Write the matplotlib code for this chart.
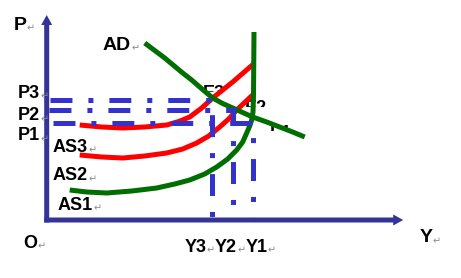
import matplotlib.pyplot as plt
from matplotlib.transforms import Bbox, TransformedBbox

plt.rcParams['lines.scale_dashes'] = False

# curves, x = output Y, y = price P (origin at the axes corner)
ad_x = [98, 108, 118, 127, 136, 145, 153, 160, 166, 176, 186, 196, 206, 220, 233, 246, 258]
ad_y = [177, 169.5, 162, 154.5, 147, 140, 133, 127, 122, 116.5, 112, 107.5, 103, 98, 93, 88, 83]

as1_x = [23, 40, 60, 85, 110, 128, 143, 158, 170, 181, 190, 196, 200, 203, 205, 206.3, 206.8, 207.3]
as1_y = [30, 28, 27, 29, 32, 36, 40, 46, 53, 61, 70, 78, 87, 94, 100, 108, 125, 188]

as2_x = [33, 55, 76, 98, 120, 136, 150, 162, 173, 182, 190, 199, 208]
as2_y = [65, 63, 62, 64, 67, 71, 77, 84, 93, 101, 110, 118.5, 127]

as3_x = [33, 55, 76, 98, 120, 132, 143, 155, 166, 176, 186, 197, 208]
as3_y = [95, 93, 92, 93, 95, 98.5, 103, 112, 122, 130, 138, 147.5, 157]

# equilibrium levels E1, E2, E3
p_levels = [97, 110.5, 120.5]
y_levels = [206, 186.5, 165.5]
dash_start = [6, 2, 3]
p_names = ['P1', 'P2', 'P3']
p_label_y = [84, 104, 127]

axis_col = '#333399'
blue = '#3333cc'
green = '#006e00'
red = '#ff0000'

fig = plt.figure(figsize=(4.61, 2.78), dpi=100)
ax = fig.add_axes([0, 0, 1, 1])
ax.set_xlim(-46.7, 414.3)
ax.set_ylim(-58, 220)
ax.axis('off')

ax.plot(as2_x, as2_y, color=red, lw=3.6, solid_capstyle='butt', zorder=2)
ax.plot(as3_x, as3_y, color=red, lw=3.6, solid_capstyle='butt', zorder=2)
ax.plot(as1_x, as1_y, color=green, lw=3.6, solid_capstyle='butt', zorder=2.5)
ax.plot(ad_x, ad_y, color=green, lw=3.6, solid_capstyle='butt', zorder=2.5)

for p, y, x0 in zip(p_levels, y_levels, dash_start):
    ax.plot([x0, y, y], [p, p, 0], color=blue, lw=3.6, zorder=3,
            dashes=(15.8, 11.5, 3.6, 11.5), dash_capstyle='butt', dash_joinstyle='miter')

# axes with arrow heads
ax.arrow(0, -2.5, 0, 207.5, width=5, head_width=11, head_length=10,
         length_includes_head=True, color=axis_col, lw=0, zorder=4)
ax.arrow(-2.5, 0, 359, 0, width=5, head_width=11, head_length=10,
         length_includes_head=True, color=axis_col, lw=0, zorder=4)

font = dict(family='Liberation Sans', weight='bold', color='black')
mark = dict(family='DejaVu Sans', color='#8c8c8c', fontsize=7)


def label(x, y, parts, size=13):
    prev = None
    for s in parts:
        if prev is None:
            t = ax.text(x, y, s, fontsize=size, ha='left', va='center', zorder=5, **font)
        else:
            t = ax.annotate(s, xy=(1, y), xycoords=(prev, 'data'), fontsize=size,
                            ha='left', va='center', zorder=5, **font)
        prev = ax.annotate('\u21b5', xy=(1, y - 3), xycoords=(t, 'data'),
                           ha='left', va='center', zorder=5, **mark)
    return t


label(-33, 195, ['P'], size=14)
for name, yy in zip(p_names, p_label_y):
    label(-28.7, yy, [name])
label(56.3, 175, ['AD'], size=14)
label(6.3, 73, ['AS3'])
label(6.3, 44, ['AS2'])
label(11.3, 15, ['AS1'])
label(-23.5, -23, ['O'])
label(373, -18, ['Y'], size=14)
label(138.3, -27, ['Y3', 'Y2', 'Y1'])

# E labels, only their upper part shows in the original
e_names = ['E1', 'E2', 'E3']
e_pos = [(223.3, 82, 89.5), (198.3, 107, 113), (156.3, 122, 128.5)]
for name, (x, y, cut) in zip(e_names, e_pos):
    t = ax.text(x, y, name, fontsize=13, ha='left', va='baseline', zorder=1, **font)
    box = TransformedBbox(Bbox.from_extents(x - 5, cut, x + 60, cut + 40), ax.transData)
    t.set_clip_box(box)
    t.set_clip_on(True)

fig.savefig('out.png', dpi=100)
